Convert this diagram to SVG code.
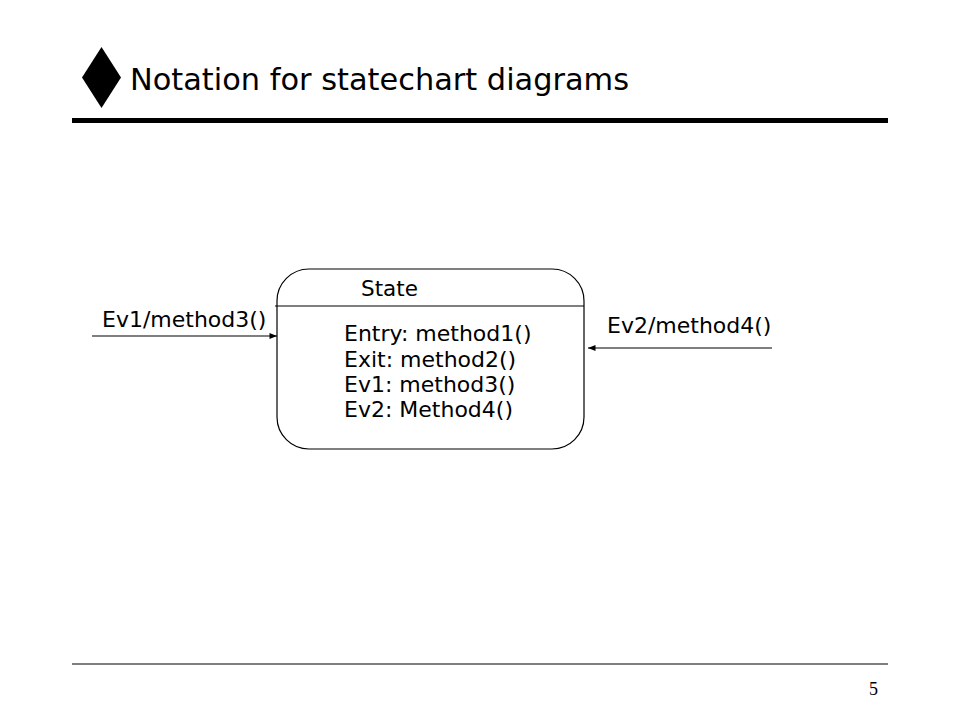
<svg xmlns="http://www.w3.org/2000/svg" width="960" height="720" viewBox="0 0 960 720">
<style>
.t{font-family:"DejaVu Sans",sans-serif;fill:#000}
.ln{stroke:#000;fill:none}
</style>
<defs>
<marker id="ah" viewBox="0 0 10 8" refX="10" refY="4" markerWidth="8" markerHeight="6" markerUnits="userSpaceOnUse" orient="auto">
<path d="M0,0 L10,4 L0,8 z" fill="#000"/>
</marker>
</defs>
<rect width="960" height="720" fill="#fff"/>
<g id="title">
<polygon points="101.5,47 121,77.5 101.5,108 82,77.5" fill="#000"/>
<text class="t" x="130" y="90" font-size="30.4">Notation for statechart diagrams</text>
<line class="ln" x1="72" y1="120.5" x2="888" y2="120.5" stroke-width="5"/>
</g>
<g id="state">
<rect class="ln" x="277" y="269" width="307" height="180" rx="32" ry="32" stroke-width="1.2"/>
<line class="ln" x1="275" y1="306" x2="584" y2="306" stroke-width="1.2"/>
<text class="t" x="361" y="296" font-size="21.5">State</text>
<text class="t" x="344" y="341" font-size="22">Entry: method1()</text>
<text class="t" x="344" y="367" font-size="22">Exit: method2()</text>
<text class="t" x="344" y="392" font-size="22">Ev1: method3()</text>
<text class="t" x="344" y="417" font-size="22">Ev2: Method4()</text>
</g>
<g id="connectors">
<line class="ln" x1="92" y1="336" x2="277" y2="336" stroke-width="1.2" marker-end="url(#ah)"/>
<line class="ln" x1="772" y1="348" x2="588" y2="348" stroke-width="1.2" marker-end="url(#ah)"/>
</g>
<g id="labels">
<text class="t" x="102" y="327" font-size="22">Ev1/method3()</text>
<text class="t" x="607" y="333" font-size="22">Ev2/method4()</text>
</g>
<g id="footer">
<line class="ln" x1="72" y1="664" x2="888" y2="664" stroke-width="1.2"/>
<text x="873.5" y="695" font-size="18" font-family="Liberation Serif, serif" text-anchor="middle">5</text>
</g>
</svg>
